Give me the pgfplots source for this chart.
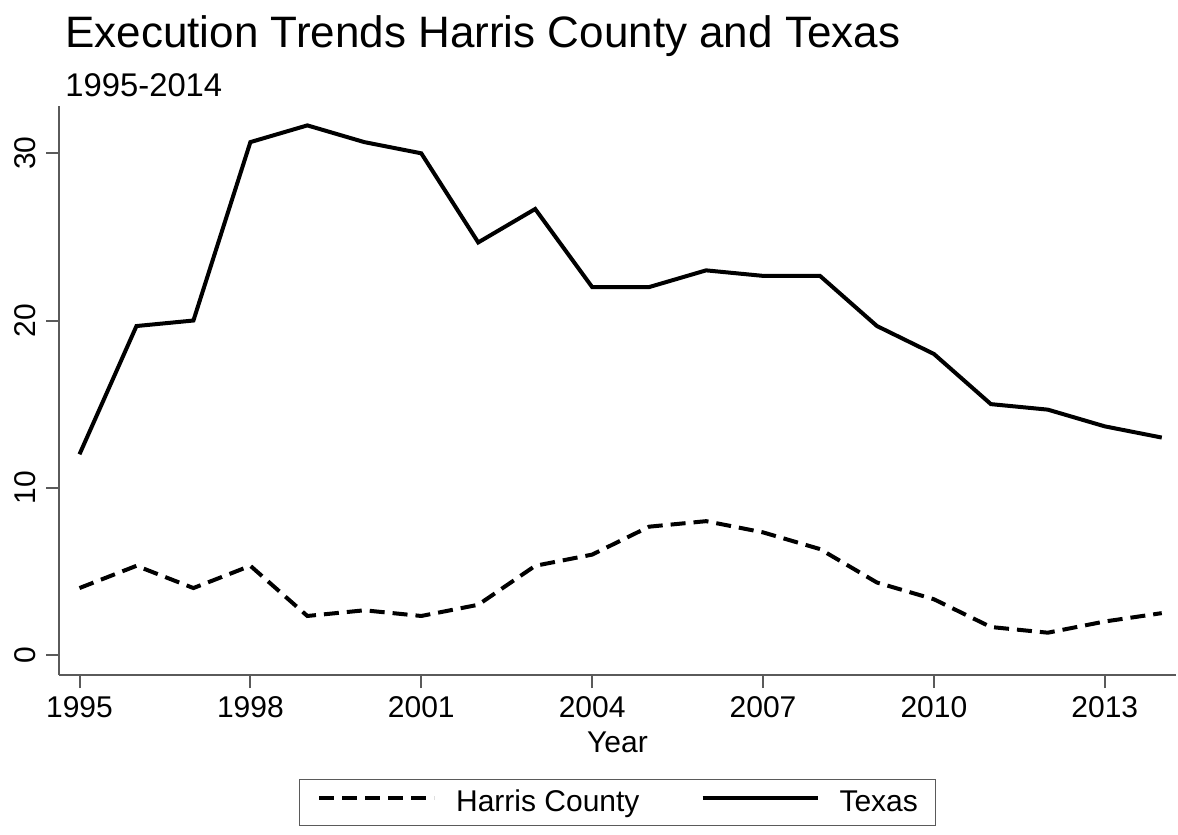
\documentclass[border=0pt]{standalone}
\usepackage{pgfplots}
\pgfplotsset{compat=1.18}
\usepackage{fontspec}
\setmainfont{Liberation Sans}

\definecolor{axisgray}{HTML}{5A5A5A}

\begin{document}
\begin{tikzpicture}
\useasboundingbox (-29.5pt,-80pt) rectangle (559.5pt,337.5pt);
\begin{axis}[
  scale only axis,
  width=558.5pt, height=284.5pt,
  xmin=1994.64, xmax=2014.25,
  ymin=-1.2, ymax=32.83,
  axis x line*=bottom, axis y line*=left,
  axis line style={axisgray, line width=1.3pt, -},
  tick align=outside,
  major tick length=6.5pt,
  tick style={axisgray, line width=1pt},
  xtick={1995,1998,2001,2004,2007,2010,2013},
  ytick={0,10,20,30},
  minor tick num=0,
  /pgf/number format/assume math mode=true,
  /pgf/number format/set thousands separator={},
  ticklabel style={font=\fontsize{15}{18}\selectfont},
  yticklabel style={rotate=90, anchor=south, inner sep=5pt},
  xticklabel style={inner sep=4pt},
  xlabel={Year},
  xlabel style={font=\fontsize{15}{18}\selectfont, inner sep=0pt, yshift=-3pt},
  clip=false,
  legend columns=2,
  legend style={
    at={(0.5,-0.182)}, anchor=north,
    draw=axisgray, line width=0.8pt,
    font=\fontsize{15}{18}\selectfont,
    inner xsep=8.75pt, inner ysep=7pt,
    nodes={text height=0.9em, text depth=0em, inner xsep=0pt, inner ysep=0pt},
    /tikz/every odd column/.append style={column sep=10pt},
    /tikz/every even column/.append style={column sep=30.5pt},
  },
  legend image code/.code={
    \draw[#1, line width=2pt] (0pt,0.2em) -- (57.5pt,0.2em);
  },
]
\addplot[black, line width=2pt, dash pattern=on 7.5pt off 4pt] coordinates {
  (1995,4) (1996,5.33) (1997,4) (1998,5.33) (1999,2.33) (2000,2.67)
  (2001,2.33) (2002,3) (2003,5.33) (2004,6) (2005,7.67) (2006,8)
  (2007,7.33) (2008,6.33) (2009,4.33) (2010,3.33) (2011,1.67) (2012,1.33)
  (2013,2) (2014,2.5)
};
\addlegendentry{Harris County}
\addplot[black, line width=2pt] coordinates {
  (1995,12) (1996,19.67) (1997,20) (1998,30.67) (1999,31.67) (2000,30.67)
  (2001,30) (2002,24.67) (2003,26.67) (2004,22) (2005,22) (2006,23)
  (2007,22.67) (2008,22.67) (2009,19.67) (2010,18) (2011,15) (2012,14.67)
  (2013,13.67) (2014,13)
};
\addlegendentry{Texas}
\node[anchor=base west, inner sep=0pt, font=\fontsize{22}{26}\selectfont]
  at ([xshift=3pt,yshift=29pt]rel axis cs:0,1) {Execution Trends Harris County and Texas};
\node[anchor=base west, inner sep=0pt, font=\fontsize{16.4}{19}\selectfont]
  at ([xshift=3pt,yshift=4.5pt]rel axis cs:0,1) {1995-2014};
\end{axis}
\end{tikzpicture}
\end{document}
